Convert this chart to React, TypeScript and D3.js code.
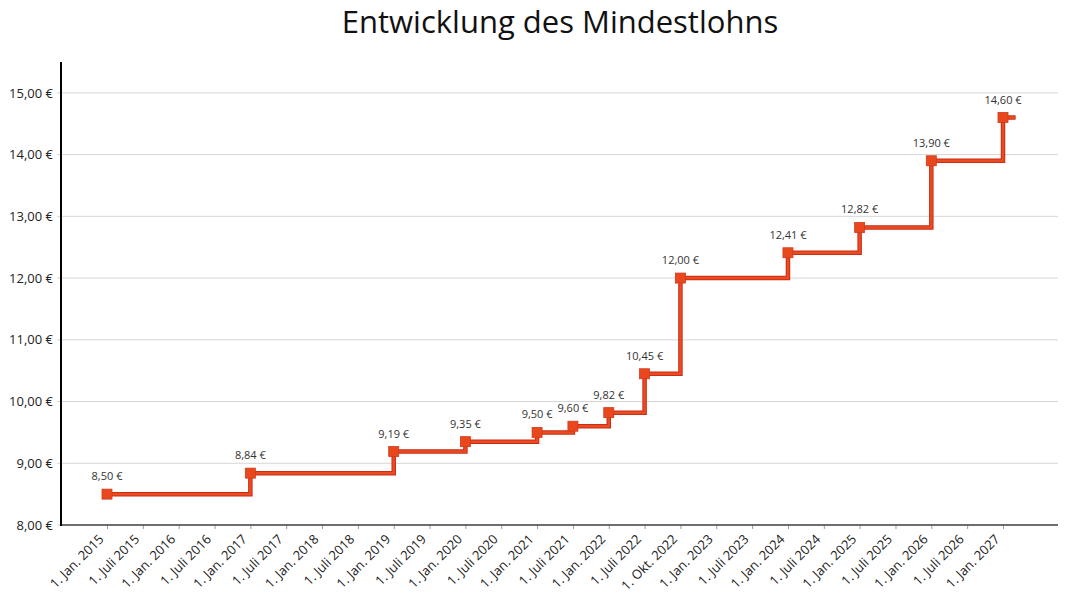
import * as d3 from 'd3';
import { useEffect, useRef } from 'react';

// x categories (Stichtage)
const dates = [
    '1. Jan. 2015', '1. Juli 2015', '1. Jan. 2016', '1. Juli 2016', '1. Jan. 2017', '1. Juli 2017',
    '1. Jan. 2018', '1. Juli 2018', '1. Jan. 2019', '1. Juli 2019', '1. Jan. 2020', '1. Juli 2020',
    '1. Jan. 2021', '1. Juli 2021', '1. Jan. 2022', '1. Juli 2022', '1. Okt. 2022', '1. Jan. 2023',
    '1. Juli 2023', '1. Jan. 2024', '1. Juli 2024', '1. Jan. 2025', '1. Juli 2025', '1. Jan. 2026',
    '1. Juli 2026', '1. Jan. 2027',
];

// points where the wage changed
const changeDates = [
    '1. Jan. 2015', '1. Jan. 2017', '1. Jan. 2019', '1. Jan. 2020', '1. Jan. 2021', '1. Juli 2021',
    '1. Jan. 2022', '1. Juli 2022', '1. Okt. 2022', '1. Jan. 2024', '1. Jan. 2025', '1. Jan. 2026',
    '1. Jan. 2027',
];
const wages = [8.5, 8.84, 9.19, 9.35, 9.5, 9.6, 9.82, 10.45, 12.0, 12.41, 12.82, 13.9, 14.6];

const yTicks = [8, 9, 10, 11, 12, 13, 14, 15];

const de = d3.formatLocale({ decimal: ',', thousands: '.', grouping: [3], currency: ['', ' €'] });
const euro = de.format('$.2f');

export default function App() {
    const ref = useRef<SVGSVGElement | null>(null);

    useEffect(() => {
        if (!ref.current) return;
        const svg = d3.select(ref.current);
        svg.selectAll('*').remove();

        const width = 1067;
        const height = 600;
        const left = 61;
        const right = 1058;
        const top = 62;
        const bottom = 525;
        const font = "'Open Sans', sans-serif";

        const x = d3.scaleLinear().domain([0, dates.length - 1]).range([107, 1003]);
        const y = d3.scaleLinear().domain([8, 15.5]).range([bottom, top]);
        const xi = (d: string) => x(dates.indexOf(d));

        svg.attr('viewBox', `0 0 ${width} ${height}`);

        svg.append('text')
            .attr('x', 560)
            .attr('y', 33)
            .attr('text-anchor', 'middle')
            .style('font-family', font)
            .style('font-size', '31px')
            .style('fill', '#111')
            .text('Entwicklung des Mindestlohns');

        // grid
        svg.append('g')
            .selectAll('line')
            .data(yTicks)
            .join('line')
            .attr('x1', left - 4)
            .attr('x2', right)
            .attr('y1', (d) => y(d))
            .attr('y2', (d) => y(d))
            .attr('stroke', '#d6d6d6')
            .attr('stroke-width', 1);

        // y axis
        const yAxis = svg.append('g').attr('transform', `translate(${left},0)`)
            .call(d3.axisLeft(y).tickValues(yTicks).tickFormat((d) => euro(+d)).tickSizeInner(0).tickSizeOuter(0).tickPadding(8));
        yAxis.select('.domain').remove();
        yAxis.selectAll('text').style('font-family', font).style('font-size', '13px').style('fill', '#222');

        // x axis
        const xAxis = svg.append('g').attr('transform', `translate(0,${bottom})`)
            .call(d3.axisBottom(x).tickValues(d3.range(dates.length)).tickFormat((d) => dates[+d]).tickSizeInner(4).tickSizeOuter(0));
        xAxis.select('.domain').remove();
        xAxis.selectAll('.tick line').attr('stroke', '#999');
        xAxis.selectAll('text')
            .style('font-family', font)
            .style('font-size', '13px')
            .style('fill', '#222')
            .style('text-anchor', 'end')
            .attr('dy', '0')
            .attr('y', 0)
            .attr('transform', 'translate(-3,15) rotate(-45)');

        svg.append('line')
            .attr('x1', left).attr('x2', right)
            .attr('y1', bottom).attr('y2', bottom)
            .attr('stroke', '#444').attr('stroke-width', 1.5);
        svg.append('line')
            .attr('x1', left).attr('x2', left)
            .attr('y1', top).attr('y2', bottom + 1)
            .attr('stroke', '#000').attr('stroke-width', 2);

        // step line
        const pts: [number, number][] = changeDates.map((d, i) => [xi(d), y(wages[i])]);
        pts.push([x(dates.length - 1 + 0.35), y(wages[wages.length - 1])]);
        const line = d3.line().curve(d3.curveStepAfter);
        svg.append('path').attr('d', line(pts)).attr('fill', 'none').attr('stroke', '#c92d15').attr('stroke-width', 4.5);
        svg.append('path').attr('d', line(pts)).attr('fill', 'none').attr('stroke', '#ec4a22').attr('stroke-width', 2.5);

        // markers
        svg.append('g')
            .selectAll('rect')
            .data(changeDates)
            .join('rect')
            .attr('x', (d) => xi(d) - 5)
            .attr('y', (_, i) => y(wages[i]) - 5)
            .attr('width', 10)
            .attr('height', 10)
            .attr('fill', '#e9481f')
            .attr('stroke', '#d23a18')
            .attr('stroke-width', 0.8);

        // value labels
        svg.append('g')
            .selectAll('text')
            .data(changeDates)
            .join('text')
            .attr('x', (d) => xi(d))
            .attr('y', (_, i) => y(wages[i]) - 14)
            .attr('text-anchor', 'middle')
            .style('font-family', font)
            .style('font-size', '11px')
            .style('fill', '#333')
            .text((_, i) => euro(wages[i]));
    }, []);

    return <svg ref={ref} width={1067} height={600} style={{ position: 'absolute', left: 0, top: 0 }} />;
}
